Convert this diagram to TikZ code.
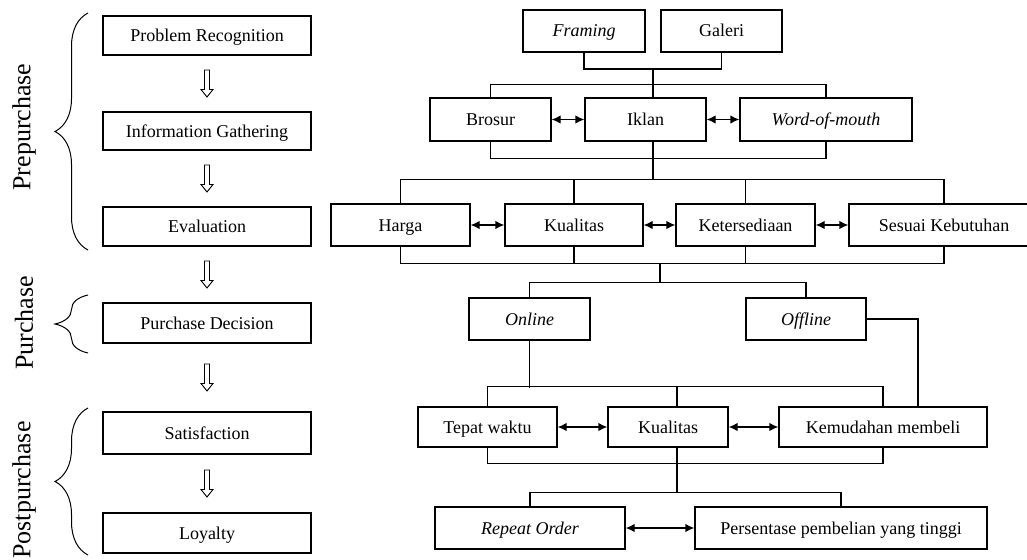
\documentclass[tikz,border=0pt]{standalone}
\usepackage{fontspec}
\setmainfont{Liberation Serif}
\usetikzlibrary{calc,arrows.meta,decorations.pathreplacing}
\newcommand\hollowdown[2]{%
  \path ($(#1.south)!0.5!(#2.north)$) coordinate (hm);
  \draw[line width=0.9pt,line join=miter]
    ($(hm)+(-2.5,-13.5)$) -- ($(hm)+(2.5,-13.5)$) -- ($(hm)+(2.5,6)$) --
    ($(hm)+(6,6)$) -- ($(hm)+(0,13.5)$) -- ($(hm)+(-6,6)$) --
    ($(hm)+(-2.5,6)$) -- cycle;}
\begin{document}
\begin{tikzpicture}[x=1pt,y=-1pt,
  box/.style={draw,line width=1.3pt,inner sep=0pt,text height=13pt,text depth=1pt,font=\fontsize{18}{20}\selectfont},
  conn/.style={line width=1.3pt},
  dbl/.style={line width=1.3pt,{Latex[length=9pt,width=8.5pt]}-{Latex[length=9pt,width=8.5pt]}},
  phase/.style={rotate=90,font=\fontsize{26}{28}\selectfont},
  brc/.style={line width=1pt,decorate,decoration={brace,amplitude=33pt}}]
\useasboundingbox (0,0) rectangle (1027,559);
\fill[white] (0,0) rectangle (1027,559);
% left column
\node[box,minimum width=208pt,minimum height=39pt] (pr) at (207,35.5) {Problem Recognition};
\node[box,minimum width=208pt,minimum height=38pt] (ig) at (207,131) {Information Gathering};
\node[box,minimum width=208pt,minimum height=39pt] (ev) at (207,226.5) {Evaluation};
\node[box,minimum width=208pt,minimum height=40pt] (pd) at (207,323) {Purchase Decision};
\node[box,minimum width=208pt,minimum height=42pt] (sa) at (207,433) {Satisfaction};
\node[box,minimum width=208pt,minimum height=40pt] (lo) at (207,533) {Loyalty};
\hollowdown{pr}{ig}
\hollowdown{ig}{ev}
\hollowdown{ev}{pd}
\hollowdown{pd}{sa}
\hollowdown{sa}{lo}
% braces and phase labels
\coordinate (b1s) at (88,250); \coordinate (b1e) at (88,13);
\coordinate (b2s) at (88,353); \coordinate (b2e) at (88,295);
\coordinate (b3s) at (88,555); \coordinate (b3e) at (88,408);
\draw[brc] (b1s) -- (b1e);
\draw[brc] (b2s) -- (b2e);
\draw[brc] (b3s) -- (b3e);
\node[phase] (lpre) at (24,127) {Prepurchase};
\node[phase] (lpur) at (24,323) {Purchase};
\node[phase] (lpost) at (24,490) {Postpurchase};
% row 1
\node[box,minimum width=122pt,minimum height=42pt] (fr) at (584,31) {\itshape Framing};
\node[box,minimum width=121pt,minimum height=42pt] (ga) at (721.5,31) {Galeri};
% row 2
\node[box,minimum width=121pt,minimum height=43pt] (br) at (490.5,119.5) {Brosur};
\node[box,minimum width=121pt,minimum height=43pt] (ik) at (645.5,119.5) {Iklan};
\node[box,minimum width=172pt,minimum height=43pt] (wm) at (826,119.5) {\itshape Word-of-mouth};
% row 3
\node[box,minimum width=139pt,minimum height=42pt] (ha) at (400.5,225) {Harga};
\node[box,minimum width=138pt,minimum height=42pt] (ku) at (574,225) {Kualitas};
\node[box,minimum width=139pt,minimum height=42pt] (ke) at (745.5,225) {Ketersediaan};
\node[box,minimum width=190pt,minimum height=42pt] (se) at (944,225) {Sesuai Kebutuhan};
% row 4
\node[box,minimum width=121pt,minimum height=42pt] (on) at (529.5,319) {\itshape Online};
\node[box,minimum width=120pt,minimum height=42pt] (of) at (806,319) {\itshape Offline};
% row 5
\node[box,minimum width=139pt,minimum height=40pt] (tw) at (487.5,427) {Tepat waktu};
\node[box,minimum width=120pt,minimum height=40pt] (kb) at (668,427) {Kualitas};
\node[box,minimum width=208pt,minimum height=40pt] (km) at (883,427) {Kemudahan membeli};
% row 6
\node[box,minimum width=190pt,minimum height=42pt] (ro) at (530,528) {\itshape Repeat Order};
\node[box,minimum width=292pt,minimum height=42pt] (pe) at (841,528) {Persentase pembelian yang tinggi};
% connectors
\coordinate (j1) at (653,69);
\draw[conn] (fr.south) |- (j1) -| (ga.south);
\draw[conn] (j1) -- (j1 |- ik.north);
\draw[conn] (br.north) -- ++(0,-13) -| (wm.north);
\draw[conn] (br.south) -- ++(0,17) -| (wm.south);
\coordinate (j2) at (653,180);
\draw[conn] (j2 |- ik.south) -- (j2);
\draw[conn] (ha.north) -- ++(0,-24) -| (se.north);
\draw[conn] (ku.north) -- (ku.north |- j2);
\draw[conn] (ke.north) -- (ke.north |- j2);
\draw[conn] (ha.south) -- ++(0,17) -| (se.south);
\draw[conn] (ku.south) -- ++(0,17);
\draw[conn] (ke.south) -- ++(0,17);
\coordinate (j3) at (660,283);
\draw[conn] (j3 |- ha.south) ++(0,17) -- (j3);
\draw[conn] (on.north) -- ++(0,-15) -| (of.north);
\draw[conn] (on.south) -- ++(0,47);
\draw[conn] (of.east) -| ($(km.north)+(35,0)$);
\draw[conn] (tw.north) -- ++(0,-20) -| (km.north);
\coordinate (j5) at (677,387);
\draw[conn] (j5) -- (j5 |- kb.north);
\draw[conn] (tw.south) -- ++(0,16) -| (km.south);
\coordinate (j6) at (677,493);
\draw[conn] (j6 |- kb.south) -- (j6);
\draw[conn] (ro.north) -- ++(0,-14) -| (pe.north);
% double arrows
\draw[dbl] (br) -- (ik);
\draw[dbl] (ik) -- (wm);
\draw[dbl] (ha) -- (ku);
\draw[dbl] (ku) -- (ke);
\draw[dbl] (ke) -- (se);
\draw[dbl] (tw) -- (kb);
\draw[dbl] (kb) -- (km);
\draw[dbl] (ro) -- (pe);
\end{tikzpicture}
\end{document}
